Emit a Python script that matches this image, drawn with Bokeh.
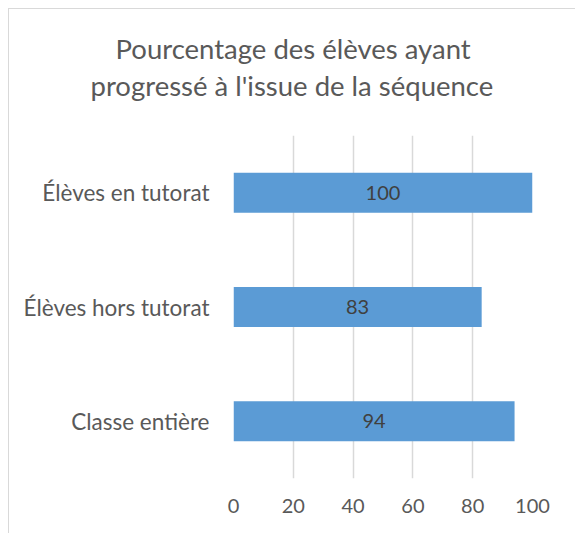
from bokeh.plotting import figure
from bokeh.models import ColumnDataSource, FactorRange, Range1d, FixedTicker, LabelSet, Title
from bokeh.core.properties import value
from bokeh.embed import file_html
from bokeh.resources import INLINE

categories = ["Classe entière", "Élèves hors tutorat", "Élèves en tutorat"]
values = [94, 83, 100]
x_ticks = [0, 20, 40, 60, 80, 100]
title_lines = ["Pourcentage des élèves ayant", "progressé à l'issue de la séquence"]

FONT = "Lato"
src = ColumnDataSource(dict(cat=categories, val=values, lab=[str(v) for v in values],
                            mid=[v / 2 for v in values]))

p = figure(width=567, height=525, y_range=FactorRange(*categories), x_range=Range1d(0, 100),
           output_backend="svg", toolbar_location=None,
           min_border_left=224, min_border_right=44, min_border_top=126, min_border_bottom=56)
p.margin = (8, 0, 0, 8)
p.styles = {"border-top": "1px solid #D9D9D9", "border-left": "1px solid #D9D9D9"}
p.outline_line_color = None
p.border_fill_color = "white"

p.hbar(y="cat", right="val", left=0, height=0.35, source=src, color="#5B9BD5", line_color=None)

labels = LabelSet(x="mid", y="cat", text="lab", source=src, text_align="center",
                  text_baseline="middle", text_color="#404040", text_font_size="20px",
                  text_font=value(FONT))
p.add_layout(labels)

p.xaxis.ticker = FixedTicker(ticks=x_ticks)
p.xaxis.axis_line_color = None
p.xaxis.major_tick_line_color = None
p.xaxis.minor_tick_line_color = None
p.xaxis.major_label_text_font = FONT
p.xaxis.major_label_text_font_size = "20px"
p.xaxis.major_label_text_color = "#595959"
p.xaxis.major_label_standoff = 14

p.yaxis.axis_line_color = None
p.yaxis.major_tick_line_color = None
p.yaxis.minor_tick_line_color = None
p.yaxis.major_label_text_font = FONT
p.yaxis.major_label_text_font_size = "22.5px"
p.yaxis.major_label_text_color = "#595959"
p.yaxis.major_label_standoff = 18

p.ygrid.grid_line_color = None
p.xgrid.ticker = FixedTicker(ticks=x_ticks)
p.xgrid.grid_line_color = "#D9D9D9"
p.xgrid.grid_line_width = 1.5

p.title.text = title_lines[0]
p.title.align = "left"
p.title.offset = -118
p.title.text_font = FONT
p.title.text_font_size = "27.5px"
p.title.text_font_style = "normal"
p.title.text_color = "#595959"
p.title.standoff = 0
spacer = Title(text=" ", text_font_size="1px", standoff=28)
p.add_layout(spacer, "above")
t2 = Title(text=title_lines[1], align="left", offset=-143, text_font=FONT, text_font_size="27.5px",
           text_font_style="normal", text_color="#595959", standoff=5)
p.add_layout(t2, "above")

open("out.html", "w").write(file_html(p, INLINE))
